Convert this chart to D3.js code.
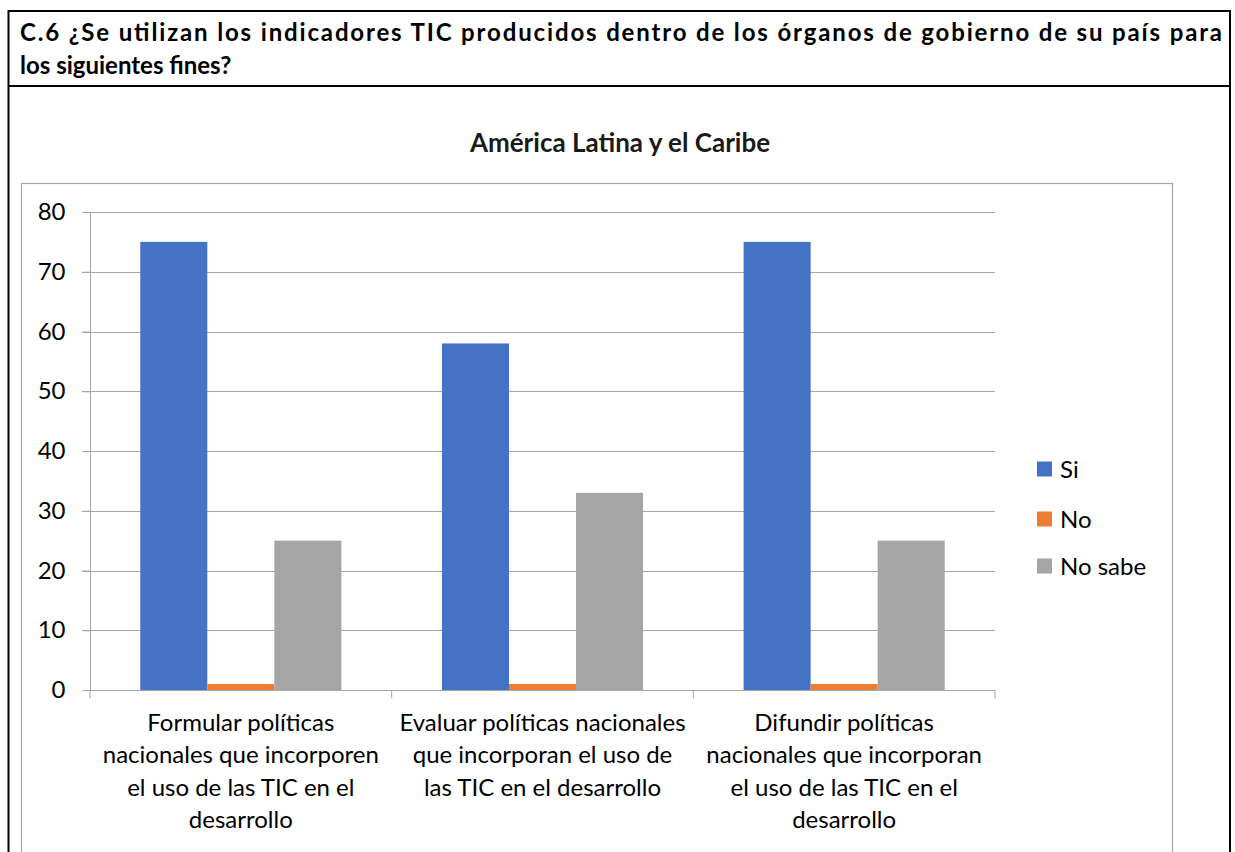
<!DOCTYPE html>
<html><head><meta charset="utf-8">
<script src="https://cdn.jsdelivr.net/npm/d3@7"></script>
<style>body{margin:0;background:#fff}svg{display:block}</style>
</head><body>
<script>
const categories = [
  ["Formular políticas", "nacionales que incorporen", "el uso de las TIC en el", "desarrollo"],
  ["Evaluar políticas nacionales", "que incorporan el uso de", "las TIC en el desarrollo"],
  ["Difundir políticas", "nacionales que incorporan", "el uso de las TIC en el", "desarrollo"]
];
const seriesNames = ["Si", "No", "No sabe"];
const siValues = [75, 58, 75];
const noValues = [1, 1, 1];
const noSabeValues = [25, 33, 25];
const yTicks = [0, 10, 20, 30, 40, 50, 60, 70, 80];
const colors = ["#4472c4", "#ed7d31", "#a5a5a5"];
const headerLines = ["C.6 ¿Se utilizan los indicadores TIC producidos dentro de los órganos de gobierno de su país para", "los siguientes fines?"];
const chartTitle = "América Latina y el Caribe";

(function () {
const W = 1235, H = 852;
const font = "Lato, 'Open Sans', sans-serif";
const fs = 24;
const svg = d3.select("body").append("svg").attr("width", W).attr("height", H);

svg.append("rect").attr("x", 8.5).attr("y", 11).attr("width", 1221.5).attr("height", H + 10)
  .attr("fill", "none").attr("stroke", "#000").attr("stroke-width", 2);
svg.append("line").attr("x1", 8).attr("x2", 1231).attr("y1", 86).attr("y2", 86)
  .attr("stroke", "#000").attr("stroke-width", 2);

svg.append("text").attr("x", 20).attr("y", 41).attr("font-family", font).attr("font-weight", "bold")
  .attr("font-size", 24).attr("textLength", 1202).attr("lengthAdjust", "spacing").text(headerLines[0]);
svg.append("text").attr("x", 20).attr("y", 74).attr("font-family", font).attr("font-weight", "bold")
  .attr("font-size", 24).text(headerLines[1]);

svg.append("rect").attr("x", 21.5).attr("y", 183.5).attr("width", 1151).attr("height", H)
  .attr("fill", "none").attr("stroke", "#a6a6a6").attr("stroke-width", 1.2);

svg.append("text").attr("x", 620).attr("y", 152).attr("text-anchor", "middle").attr("font-family", font)
  .attr("font-weight", "bold").attr("font-size", 26).attr("fill", "#1a1a1a").text(chartTitle);

const pLeft = 90, pRight = 995, pTop = 212, pBottom = 690;
const y = d3.scaleLinear().domain([0, 80]).range([pBottom, pTop]);
const x0 = d3.scaleBand().domain(d3.range(categories.length)).range([pLeft, pRight]).paddingInner(0).paddingOuter(0);
const x1 = d3.scaleBand().domain(seriesNames).range([0, x0.bandwidth()]).paddingInner(0).paddingOuter(0.75);

svg.append("g").selectAll("line").data(yTicks.filter(d => d > 0)).join("line")
  .attr("x1", pLeft - 8).attr("x2", pRight).attr("y1", d => Math.round(y(d)) + 0.5).attr("y2", d => Math.round(y(d)) + 0.5)
  .attr("stroke", "#a6a6a6").attr("stroke-width", 1);

const yAxis = svg.append("g").attr("transform", `translate(${pLeft + 0.5},0)`)
  .call(d3.axisLeft(y).tickValues(yTicks).tickSize(8).tickPadding(17));
yAxis.select(".domain").attr("stroke", "#a6a6a6").attr("d", `M0,${pBottom}V${pTop}`);
yAxis.selectAll(".tick line").attr("stroke", "#a6a6a6");
yAxis.selectAll(".tick text").attr("font-family", font).attr("font-size", fs).attr("fill", "#000");

const data = categories.map((c, i) => ({ i, vals: [siValues[i], noValues[i], noSabeValues[i]] }));
const groups = svg.append("g").selectAll("g").data(data).join("g")
  .attr("transform", d => `translate(${x0(d.i)},0)`);
groups.selectAll("rect").data(d => d.vals.map((v, k) => ({ v, k }))).join("rect")
  .attr("x", d => x1(seriesNames[d.k])).attr("width", x1.bandwidth())
  .attr("y", d => y(d.v)).attr("height", d => pBottom - y(d.v)).attr("fill", d => colors[d.k]);

const xAxisG = svg.append("g").attr("transform", `translate(0,${pBottom + 0.5})`);
xAxisG.append("line").attr("x1", pLeft).attr("x2", pRight).attr("stroke", "#a6a6a6").attr("stroke-width", 1.2);
xAxisG.selectAll("line.tk").data(d3.range(categories.length + 1)).join("line").attr("class", "tk")
  .attr("x1", i => pLeft + i * x0.bandwidth()).attr("x2", i => pLeft + i * x0.bandwidth())
  .attr("y1", 0).attr("y2", 8).attr("stroke", "#a6a6a6");
categories.forEach((lines, i) => {
  const t = svg.append("text").attr("text-anchor", "middle").attr("font-family", font).attr("font-size", fs)
    .attr("fill", "#000");
  lines.forEach((l, j) => t.append("tspan").attr("x", x0(i) + x0.bandwidth() / 2).attr("y", 731 + j * 32.3).text(l));
});

const lg = svg.append("g").selectAll("g").data(seriesNames).join("g")
  .attr("transform", (d, i) => `translate(1037,${469 + [0, 50, 97][i]})`);
lg.append("rect").attr("x", 0).attr("y", -7.5).attr("width", 15).attr("height", 15).attr("fill", (d, i) => colors[i]);
lg.append("text").attr("x", 23).attr("y", 8.5).attr("font-family", font).attr("font-size", fs).text(d => d);
})();
</script>
</body></html>
